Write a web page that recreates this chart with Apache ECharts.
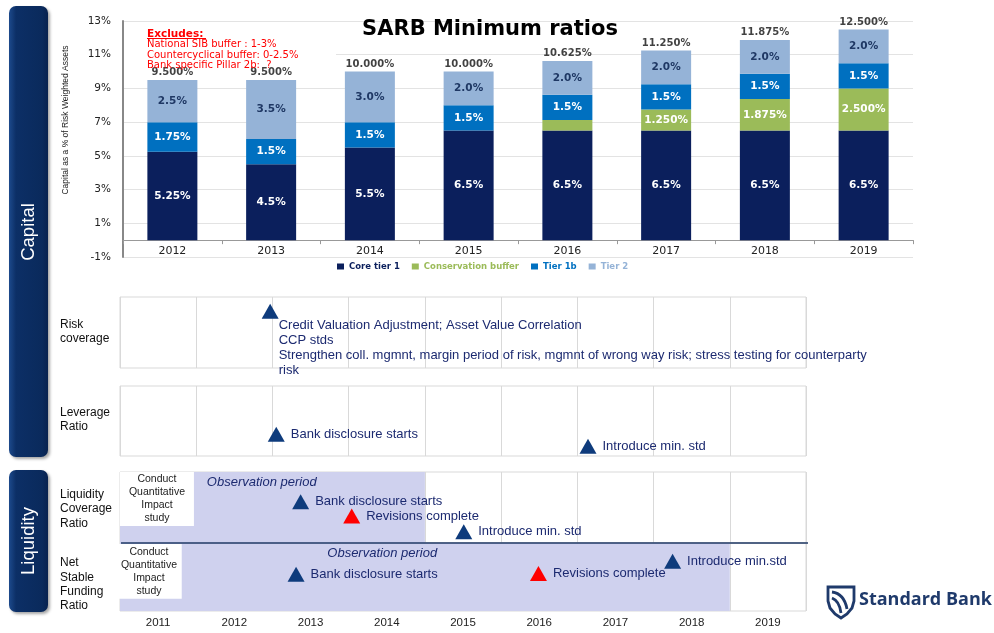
<!DOCTYPE html>
<html>
<head>
<meta charset="utf-8">
<title>SARB Minimum ratios</title>
<script src="https://cdn.jsdelivr.net/npm/echarts@6/dist/echarts.min.js"></script>
<style>
html, body { margin: 0; padding: 0; background: #fff; }
#main { width: 994px; height: 633px; }
</style>
</head>
<body>
<div id="main"></div>
<script>
// capital ratios, % of risk weighted assets
var barYears = ['2012', '2013', '2014', '2015', '2016', '2017', '2018', '2019'];
var coreTier1 = [5.25, 4.5, 5.5, 6.5, 6.5, 6.5, 6.5, 6.5];
var conservationBuffer = [0, 0, 0, 0, 0.625, 1.25, 1.875, 2.5];
var tier1b = [1.75, 1.5, 1.5, 1.5, 1.5, 1.5, 1.5, 1.5];
var tier2 = [2.5, 3.5, 3.0, 2.0, 2.0, 2.0, 2.0, 2.0];
var excludes = ['National SIB buffer : 1-3%', 'Countercyclical buffer: 0-2.5%', 'Bank specific Pillar 2b:  ?'];

// timeline (x in years, y = height inside the row 0..1)
var years = ['2011', '2012', '2013', '2014', '2015', '2016', '2017', '2018', '2019'];
var riskCoverage = [
    [2012.47, 0.80, 'Credit Valuation Adjustment; Asset Value Correlation\nCCP stds\nStrengthen coll. mgmnt, margin period of risk, mgmnt of wrong way risk; stress testing for counterparty\nrisk', 'step']
];
var leverageRatio = [
    [2012.55, 0.31, 'Bank disclosure starts', 'step'],
    [2016.64, 0.14, 'Introduce min. std', 'step']
];
var lcr = [
    [2012.87, 0.58, 'Bank disclosure starts', 'step'],
    [2013.54, 0.38, 'Revisions complete', 'revision'],
    [2015.01, 0.16, 'Introduce min. std', 'step']
];
var nsfr = [
    [2012.81, 0.54, 'Bank disclosure starts', 'step'],
    [2015.99, 0.55, 'Revisions complete', 'revision'],
    [2017.75, 0.73, 'Introduce min.std', 'step']
];
var lcrObservation = [2010.5, 2014.5];
var nsfrObservation = [2010.5, 2018.5];
var lcrStudy = [2010.5, 2011.47];
var nsfrStudy = [2010.45, 2011.31];

var NAVY = '#0e3b7c';
var TEXT_NAVY = '#1c2a70';
var SHADE = '#cfd1ee';
var LOGO = '#1f3a6b';

var totals = barYears.map(function (y, i) {
    return +(coreTier1[i] + conservationBuffer[i] + tier1b[i] + tier2[i]).toFixed(3);
});

var chart = echarts.init(document.getElementById('main'));

function barLabel(color, fmt) {
    return {
        show: true, position: 'inside', color: color,
        fontFamily: 'DejaVu Sans', fontWeight: 'bold', fontSize: 10.5,
        formatter: fmt
    };
}

// grids / axes
var barGrid = {left: 123, top: 21, width: 790, height: 236};
var yMin = -1, yMax = 13;
var grids = [barGrid];
var xAxes = [{
    type: 'category', gridIndex: 0, data: barYears,
    // sit the category axis on the 0% line
    axisLine: {onZero: false, lineStyle: {color: '#999', width: 1}},
    offset: -barGrid.height * (0 - yMin) / (yMax - yMin),
    axisTick: {show: true, interval: 0, length: 4, lineStyle: {color: '#999'}},
    axisLabel: {margin: 5, color: '#222', fontSize: 11, fontFamily: 'DejaVu Sans'}
}];
var yAxes = [{
    type: 'value', gridIndex: 0, min: yMin, max: yMax, interval: 2,
    axisLine: {show: true, lineStyle: {color: '#888', width: 2}},
    axisTick: {show: false},
    axisLabel: {margin: 12, color: '#222', fontSize: 10.5, fontFamily: 'DejaVu Sans', formatter: '{value}%'},
    splitLine: {show: true, lineStyle: {color: '#e3e3e3', width: 1}}
}];

var rows = [
    {top: 297, height: 71},
    {top: 386, height: 70},
    {top: 472, height: 71},
    {top: 543, height: 68}
];
rows.forEach(function (r, t) {
    grids.push({
        left: 120, width: 686, top: r.top, height: r.height,
        show: true, borderColor: '#d9d9d9', borderWidth: 1, backgroundColor: 'transparent'
    });
    xAxes.push({
        type: 'category', gridIndex: t + 1, data: years, boundaryGap: true,
        axisLine: {show: false}, axisTick: {show: false},
        axisLabel: {show: t === 3, margin: 6, color: '#222', fontSize: 11.5, fontFamily: 'Liberation Sans'},
        splitLine: {show: true, interval: 0, lineStyle: {color: '#d9d9d9', width: 1}}
    });
    xAxes.push({type: 'value', gridIndex: t + 1, min: 2010.5, max: 2019.5, show: false});
    yAxes.push({type: 'value', gridIndex: t + 1, min: 0, max: 1, show: false});
});

function milestoneSeries(t, list, label) {
    return {
        type: 'scatter', xAxisIndex: 2 + 2 * t, yAxisIndex: 1 + t,
        symbol: 'triangle', symbolSize: [17, 15], z: 6, silent: true,
        data: list.map(function (m) {
            return {
                value: [m[0], m[1]], name: m[2],
                itemStyle: {color: m[3] === 'revision' ? '#ff0000' : NAVY, opacity: 1}
            };
        }),
        label: Object.assign({
            show: true, formatter: '{b}', color: TEXT_NAVY, opacity: 1,
            fontFamily: 'Liberation Sans', fontSize: 13, lineHeight: 15
        }, label || {position: 'right', distance: 6})
    };
}

function periodSeries(t, obs, study, studyTop, studyBottom, noteAt) {
    return {
        type: 'custom', xAxisIndex: 2 + 2 * t, yAxisIndex: 1 + t,
        clip: false, z: 3, silent: true,
        data: [[obs[0], obs[1]]],
        renderItem: function (params, api) {
            var a = api.coord([api.value(0), 1]);
            var b = api.coord([api.value(1), 0]);
            var s0 = api.coord([study[0], studyTop]);
            var s1 = api.coord([study[1], studyBottom]);
            var n = api.coord(noteAt);
            return {
                type: 'group',
                children: [
                    {type: 'rect', shape: {x: a[0], y: a[1], width: b[0] - a[0], height: b[1] - a[1]}, style: {fill: SHADE}},
                    {type: 'rect', shape: {x: s0[0], y: s0[1], width: s1[0] - s0[0], height: s1[1] - s0[1]}, style: {fill: '#fff'}},
                    {
                        type: 'text', x: (s0[0] + s1[0]) / 2, y: (s0[1] + s1[1]) / 2,
                        style: {
                            text: 'Conduct\nQuantitative\nImpact\nstudy', fill: '#222',
                            fontFamily: 'Liberation Sans', fontSize: 10.5, lineHeight: 13,
                            align: 'center', verticalAlign: 'middle'
                        }
                    },
                    {
                        type: 'text', x: n[0], y: n[1],
                        style: {
                            text: 'Observation period', fill: TEXT_NAVY,
                            fontFamily: 'Liberation Sans', fontStyle: 'italic', fontSize: 13,
                            align: 'center', verticalAlign: 'middle'
                        }
                    }
                ]
            };
        }
    };
}

function sideBox(y, h, text, cy) {
    return [{
        type: 'rect', shape: {x: 9, y: y, width: 39, height: h, r: 7}, z: 1,
        style: {
            fill: new echarts.graphic.LinearGradient(0, 0, 1, 0, [
                {offset: 0, color: '#1d4a8c'}, {offset: 0.18, color: '#0c2f66'},
                {offset: 0.85, color: '#0a2a5c'}, {offset: 1, color: '#08224f'}
            ]),
            shadowBlur: 3, shadowOffsetX: 2, shadowOffsetY: 2, shadowColor: 'rgba(0,0,0,0.35)'
        }
    }, {
        type: 'text', x: 29, y: cy, rotation: Math.PI / 2, z: 2,
        style: {text: text, fill: '#fff', fontFamily: 'Liberation Sans', fontSize: 18.5, align: 'center', verticalAlign: 'middle'}
    }];
}

function rowLabel(text, y) {
    return {
        type: 'text', x: 60, y: y,
        style: {text: text, fill: '#111', fontFamily: 'Liberation Sans', fontSize: 12, lineHeight: 14.3, verticalAlign: 'middle'}
    };
}

var graphics = [].concat(
    sideBox(6, 451, 'Capital', 232),
    sideBox(470, 142, 'Liquidity', 541),
    [
        {
            type: 'text', x: 490, y: 30, z: 5,
            style: {text: 'SARB Minimum ratios', fill: '#000', fontFamily: 'DejaVu Sans', fontWeight: 'bold', fontSize: 21, align: 'center', verticalAlign: 'middle'}
        },
        // the note sits on a white box that hides the gridlines behind it
        {type: 'rect', z: 3, shape: {x: 124, y: 27, width: 212, height: 36}, style: {fill: '#fff'}},
        {
            type: 'text', x: 147, y: 29, z: 4,
            style: {
                text: '{h|Excludes:}\n' + excludes.map(function (e) { return '{t|' + e + '}'; }).join('\n'),
                fill: '#ff0000', verticalAlign: 'top',
                rich: {
                    h: {fill: '#ff0000', fontFamily: 'DejaVu Sans', fontWeight: 'bold', fontSize: 10.5, lineHeight: 10.5},
                    t: {fill: '#ff0000', fontFamily: 'DejaVu Sans', fontSize: 10, lineHeight: 10.5}
                }
            }
        },
        {type: 'line', z: 4, shape: {x1: 147, y1: 38.5, x2: 206, y2: 38.5}, style: {stroke: '#ff0000', lineWidth: 1}},
        {
            type: 'text', x: 66, y: 120, rotation: Math.PI / 2,
            style: {text: 'Capital as a % of Risk Weighted Assets', fill: '#222', fontFamily: 'Liberation Sans', fontSize: 8.5, align: 'center', verticalAlign: 'middle'}
        },
        rowLabel('Risk\ncoverage', 332),
        rowLabel('Leverage\nRatio', 420),
        rowLabel('Liquidity\nCoverage\nRatio', 509),
        rowLabel('Net\nStable\nFunding\nRatio', 584.5),
        {type: 'line', z: 50, shape: {x1: 121, y1: 543, x2: 808, y2: 543}, style: {stroke: '#1f3864', lineWidth: 1.5}},
        // logo: shield with two swooshes
        {
            type: 'polygon', z: 5,
            shape: {points: [[828, 587], [854, 587], [854, 601], [852, 608], [847, 614], [841, 618], [835, 614], [830, 608], [828, 601]]},
            style: {fill: null, stroke: LOGO, lineWidth: 2.8}
        },
        {
            type: 'bezierCurve', z: 5,
            shape: {x1: 832, y1: 592, cpx1: 839, cpy1: 593, cpx2: 845, cpy2: 598, x2: 847, y2: 609},
            style: {fill: null, stroke: LOGO, lineWidth: 2.8}
        },
        {
            type: 'bezierCurve', z: 5,
            shape: {x1: 832, y1: 598, cpx1: 837, cpy1: 600, cpx2: 840, cpy2: 605, x2: 841, y2: 613},
            style: {fill: null, stroke: LOGO, lineWidth: 2.8}
        },
        {
            type: 'text', x: 859, y: 600, z: 5,
            style: {text: 'Standard Bank', fill: LOGO, fontFamily: 'Open Sans', fontWeight: 'bold', fontSize: 18, verticalAlign: 'middle'}
        }
    ]
);

var option = {
    animation: false,
    backgroundColor: '#fff',
    grid: grids,
    xAxis: xAxes,
    yAxis: yAxes,
    legend: {
        left: 337, top: 262, padding: 0,
        itemWidth: 7, itemHeight: 6, itemGap: 12, icon: 'rect',
        textStyle: {fontFamily: 'DejaVu Sans', fontWeight: 'bold', fontSize: 8.5},
        data: [
            {name: 'Core tier 1', textStyle: {color: '#0b1f5c'}},
            {name: 'Conservation buffer', textStyle: {color: '#9bbb59'}},
            {name: 'Tier 1b', textStyle: {color: '#0070c0'}},
            {name: 'Tier 2', textStyle: {color: '#95b3d7'}}
        ]
    },
    graphic: graphics,
    series: [
        {
            name: 'Core tier 1', type: 'bar', stack: 'cap', barWidth: 50, data: coreTier1,
            itemStyle: {color: '#0b1f5c'},
            label: barLabel('#fff', function (p) { return p.value + '%'; })
        },
        {
            name: 'Conservation buffer', type: 'bar', stack: 'cap', barWidth: 50, data: conservationBuffer,
            itemStyle: {color: '#9bbb59'},
            label: barLabel('#fff', function (p) { return p.value >= 1 ? p.value.toFixed(3) + '%' : ''; })
        },
        {
            name: 'Tier 1b', type: 'bar', stack: 'cap', barWidth: 50, data: tier1b,
            itemStyle: {color: '#0070c0'},
            label: barLabel('#fff', function (p) { return p.value + '%'; })
        },
        {
            name: 'Tier 2', type: 'bar', stack: 'cap', barWidth: 50, data: tier2,
            itemStyle: {color: '#95b3d7'},
            label: barLabel('#1f3864', function (p) { return p.value.toFixed(1) + '%'; })
        },
        {
            name: 'total', type: 'scatter', data: totals, symbolSize: 1, silent: true,
            itemStyle: {color: 'transparent'},
            label: {
                show: true, position: 'top', distance: 2, color: '#111',
                fontFamily: 'DejaVu Sans', fontWeight: 'bold', fontSize: 10,
                formatter: function (p) { return p.value.toFixed(3) + '%'; }
            }
        },
        periodSeries(2, lcrObservation, lcrStudy, 1, 0.24, [2012.36, 0.86]),
        periodSeries(3, nsfrObservation, nsfrStudy, 0.985, 0.18, [2013.94, 0.85]),
        milestoneSeries(0, riskCoverage, {position: [17, 14], distance: 0}),
        milestoneSeries(1, leverageRatio),
        milestoneSeries(2, lcr),
        milestoneSeries(3, nsfr)
    ]
};

chart.setOption(option);
</script>
</body>
</html>
